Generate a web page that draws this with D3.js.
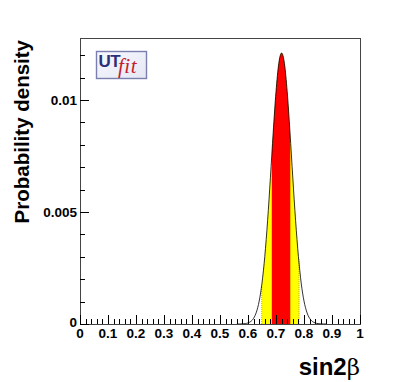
<!DOCTYPE html>
<html>
<head>
<meta charset="utf-8">
<script src="https://cdn.jsdelivr.net/npm/d3@7"></script>
<style>
  body { margin: 0; background: #fff; }
  svg { display: block; font-family: 'Liberation Sans', Arial, sans-serif; }
</style>
</head>
<body>
<div class="chart"></div>
<script>
// sin2beta posterior
const sinGrid = [0.56, 0.57, 0.58, 0.59, 0.60, 0.61, 0.62, 0.63, 0.64, 0.65, 0.66, 0.67, 0.68, 0.69, 0.70, 0.71,
  0.72, 0.73, 0.74, 0.75, 0.76, 0.77, 0.78, 0.79, 0.80, 0.81, 0.82, 0.83, 0.84, 0.85, 0.86, 0.87, 0.88];
const density = [0.000001, 0.000002, 0.000006, 0.000018, 0.000047, 0.000114, 0.000255, 0.000531, 0.001025,
  0.001827, 0.003018, 0.004613, 0.006527, 0.008551, 0.01037, 0.01164, 0.0121, 0.01164, 0.01037, 0.008551,
  0.006527, 0.004613, 0.003018, 0.001827, 0.001025, 0.000531, 0.000255, 0.000114, 0.000047, 0.000018,
  0.000006, 0.000002, 0.000001];
const range68 = [0.685, 0.751];
const range95 = [0.649, 0.782];
const xTicks = [0, 0.1, 0.2, 0.3, 0.4, 0.5, 0.6, 0.7, 0.8, 0.9, 1];
const xTickLabels = ['0', '0.1', '0.2', '0.3', '0.4', '0.5', '0.6', '0.7', '0.8', '0.9', '1'];
const yTicks = [0, 0.005, 0.01];
const yTickLabels = ['0', '0.005', '0.01'];

const config = { width: 401, height: 382, left: 80, right: 360, top: 38, bottom: 324 };

const svg = d3.select('.chart').append('svg')
  .attr('width', config.width)
  .attr('height', config.height);

const x = d3.scaleLinear().domain([0, 1]).range([config.left, config.right]);
const y = d3.scaleLinear().domain([0, 0.01277]).range([config.bottom, config.top]);

const points = sinGrid.map((s, i) => [s, density[i]]);

const area = d3.area()
  .x(d => x(d[0]))
  .y0(y(0))
  .y1(d => y(d[1]))
  .curve(d3.curveMonotoneX);

const line = d3.line()
  .x(d => x(d[0]))
  .y(d => y(d[1]))
  .curve(d3.curveMonotoneX);

const defs = svg.append('defs');
[['clip95', range95], ['clip68', range68]].forEach(([id, r]) => {
  defs.append('clipPath').attr('id', id)
    .append('rect')
    .attr('x', x(r[0]))
    .attr('y', config.top)
    .attr('width', x(r[1]) - x(r[0]))
    .attr('height', config.bottom - config.top);
});

svg.append('path')
  .datum(points)
  .attr('d', area)
  .attr('fill', '#ffff00')
  .attr('clip-path', 'url(#clip95)');

svg.append('path')
  .datum(points)
  .attr('d', area)
  .attr('fill', '#ff0000')
  .attr('clip-path', 'url(#clip68)');

// dotted edges of the 95% band
range95.forEach(v => {
  const yTop = y(points.reduce((best, p) => Math.abs(p[0] - v) < Math.abs(best[0] - v) ? p : best)[1]);
  svg.append('line')
    .attr('x1', x(v)).attr('x2', x(v))
    .attr('y1', config.bottom).attr('y2', yTop + 3)
    .attr('stroke', '#c8b400')
    .attr('stroke-width', 1)
    .attr('stroke-dasharray', '1,1');
});

svg.append('path')
  .datum(points)
  .attr('d', line)
  .attr('fill', 'none')
  .attr('stroke', '#000')
  .attr('stroke-width', 0.8);

// frame
svg.append('rect')
  .attr('x', config.left + 0.5)
  .attr('y', config.top + 0.5)
  .attr('width', config.right - config.left)
  .attr('height', config.bottom - config.top)
  .attr('fill', 'none')
  .attr('stroke', '#444')
  .attr('stroke-width', 1)
  .attr('shape-rendering', 'crispEdges');

// x axis ticks (inside the frame)
const xMinor = d3.range(0, 51).map(i => i / 50);
svg.append('g').selectAll('line')
  .data(xMinor)
  .enter()
  .append('line')
  .attr('x1', d => Math.round(x(d)) + 0.5)
  .attr('x2', d => Math.round(x(d)) + 0.5)
  .attr('y1', config.bottom)
  .attr('y2', (d, i) => config.bottom - (i % 5 === 0 ? 9 : 5))
  .attr('stroke', '#000')
  .attr('shape-rendering', 'crispEdges');

svg.append('g').selectAll('text')
  .data(xTicks)
  .enter()
  .append('text')
  .attr('x', d => x(d))
  .attr('y', 338)
  .attr('text-anchor', 'middle')
  .attr('font-size', 13.5)
  .attr('font-weight', 'bold')
  .text((d, i) => xTickLabels[i]);

// y axis ticks
const yMinor = d3.range(0, 13).map(i => i / 1000);
svg.append('g').selectAll('line')
  .data(yMinor)
  .enter()
  .append('line')
  .attr('x1', config.left)
  .attr('x2', (d, i) => config.left + (i % 5 === 0 ? 9 : 5))
  .attr('y1', d => Math.round(y(d)) + 0.5)
  .attr('y2', d => Math.round(y(d)) + 0.5)
  .attr('stroke', '#000')
  .attr('shape-rendering', 'crispEdges');

svg.append('g').selectAll('text')
  .data(yTicks)
  .enter()
  .append('text')
  .attr('x', 77)
  .attr('y', d => y(d) + (d === 0 ? 3 : 5))
  .attr('text-anchor', 'end')
  .attr('font-size', 13.5)
  .attr('font-weight', 'bold')
  .text((d, i) => yTickLabels[i]);

// axis titles
svg.append('text')
  .attr('transform', `translate(29, ${config.top + 2}) rotate(-90)`)
  .attr('text-anchor', 'end')
  .attr('font-size', 20.5)
  .attr('font-weight', 'bold')
  .text('Probability density');

const xTitle = svg.append('text')
  .attr('x', config.right)
  .attr('y', 375)
  .attr('text-anchor', 'end')
  .attr('font-size', 24);
xTitle.append('tspan').attr('font-weight', 'bold').text('sin2');
xTitle.append('tspan').attr('font-family', "'DejaVu Serif', serif").attr('font-size', 23).text('β');

// UTfit logo
const logo = svg.append('g').attr('transform', 'translate(96, 51)');
const grad = defs.append('linearGradient').attr('id', 'logoBg')
  .attr('x1', 0).attr('y1', 0).attr('x2', 1).attr('y2', 1);
grad.append('stop').attr('offset', 0).attr('stop-color', '#f8f8ff');
grad.append('stop').attr('offset', 1).attr('stop-color', '#e4e7f3');
logo.append('rect')
  .attr('x', 0.5).attr('y', 0.5)
  .attr('width', 50).attr('height', 27)
  .attr('fill', 'url(#logoBg)')
  .attr('stroke', '#7a7fb0')
  .attr('stroke-width', 1.4);
logo.append('text')
  .attr('x', 2.5).attr('y', 16)
  .attr('font-size', 17)
  .attr('font-weight', 'bold')
  .attr('letter-spacing', -0.5)
  .attr('fill', '#2b3077')
  .text('UT');
logo.append('text')
  .attr('x', 22).attr('y', 22)
  .attr('font-size', 21)
  .attr('font-style', 'italic')
  .attr('font-family', "'Liberation Serif', 'DejaVu Serif', serif")
  .attr('letter-spacing', 0.5)
  .attr('fill', '#c41e2a')
  .text('fit');
</script>
</body>
</html>
